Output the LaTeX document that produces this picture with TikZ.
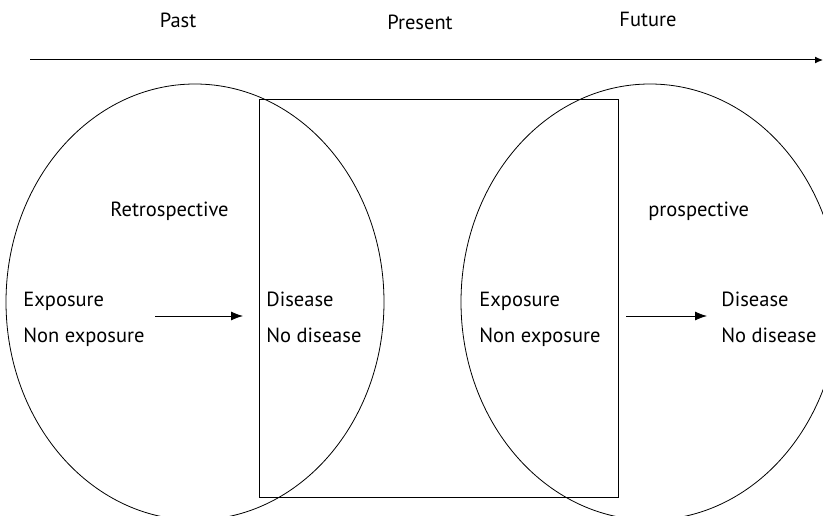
\documentclass[tikz,border=0pt]{standalone}
\usepackage{fontspec}
\setmainfont{PT Sans}
\usetikzlibrary{positioning,shapes.geometric,arrows.meta}

\begin{document}
\begin{tikzpicture}[%
    x=1pt,y=-1pt,->,>={Latex[length=12pt,width=9pt]},line width=0.8pt,
    oval/.style={%
      ellipse,draw,-,minimum width=378pt,minimum height=436pt,inner sep=0pt},
    txt/.style={anchor=base west,inner sep=0pt,font=\fontsize{20.5}{24}\selectfont},
    head/.style={anchor=base,inner sep=0pt,font=\fontsize{20.5}{24}\selectfont}
  ]
    \useasboundingbox (0,0) rectangle (823,516);
    \clip (0,0) rectangle (823,516);
    % time line
    \node[head] (past)    at (178,28) {Past};
    \node[head] (present) at (420,30) {Present};
    \node[head] (future)  at (648,27) {Future};
    \coordinate (tstart) at (30,60);
    \coordinate (tend)   at (823,60);
    \draw[line width=1pt,>={Latex[length=8pt,width=7pt]}] (tstart) -- (tend);
    % the two studies
    \node[oval] (retro) at (195,302) {};
    \node[oval] (pros)  at (650,302) {};
    \node[draw,-,minimum width=359pt,minimum height=398pt,inner sep=0pt] (box) at (438.5,298) {};
    \node[txt] (retrolab) at (110,217) {Retrospective};
    \node[txt] (proslab)  at (648,217) {prospective};
    \node[txt] (exp1)  at (23,306) {Exposure};
    \node[txt] (nexp1) at (23,342) {Non exposure};
    \node[txt] (dis1)  at (266,306) {Disease};
    \node[txt] (ndis1) at (266,342) {No disease};
    \node[txt] (exp2)  at (479,306) {Exposure};
    \node[txt] (nexp2) at (479,342) {Non exposure};
    \node[txt] (dis2)  at (721,306) {Disease};
    \node[txt] (ndis2) at (721,342) {No disease};
    \coordinate (l1) at (155,316);
    \coordinate (l2) at (243,316);
    \coordinate (r1) at (626,316);
    \coordinate (r2) at (707,316);
    \path (l1) edge (l2)
          (r1) edge (r2);
\end{tikzpicture}
\end{document}
